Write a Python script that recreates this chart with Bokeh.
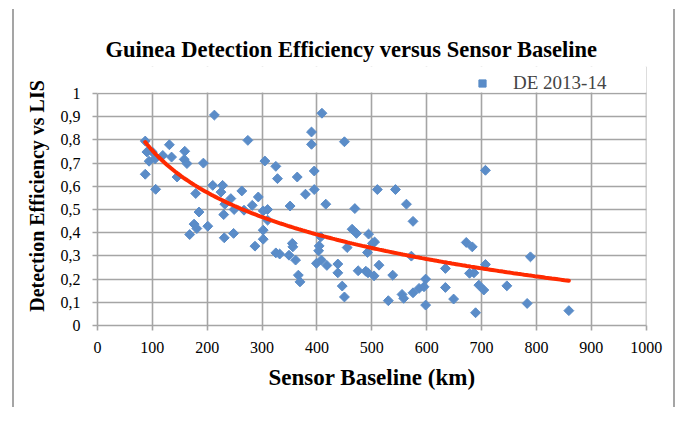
import numpy as np
from bokeh.plotting import figure
from bokeh.layouts import row
from bokeh.models import (Range1d, FixedTicker, CustomJSTickFormatter, Spacer,
                          Legend, LegendItem, BoxAnnotation)
from bokeh.embed import file_html
from bokeh.resources import INLINE

# ---- data ----
baseline_km = [
    87, 90, 100, 94, 105, 87, 106, 119, 131, 135, 145, 159, 158, 163, 193, 213,
    274, 305, 325, 328, 179, 210, 228, 225, 243, 263, 232, 249, 267, 282, 293,
    310, 302, 310, 185, 230, 176, 181, 168, 201, 248, 231, 302, 302, 287, 325,
    409, 390, 390, 450, 395, 364, 395, 379, 351, 416, 510, 543, 563, 469, 575,
    464, 472, 494, 505, 501, 455, 492, 404, 407, 403, 355, 356, 332, 349, 361,
    408, 399, 418, 438, 438, 366, 369, 446, 450, 475, 489, 493, 504, 513, 538,
    530, 555, 558, 575, 586, 595, 598, 598, 572, 634, 634, 649,
    707, 672, 683, 789, 707, 678, 686, 695, 704, 746, 689, 783, 859,
]
detection_eff = [
    0.795, 0.748, 0.748, 0.708, 0.719, 0.652, 0.587, 0.733, 0.779, 0.726, 0.640,
    0.751, 0.716, 0.698, 0.700, 0.907, 0.798, 0.709, 0.686, 0.633, 0.569, 0.604,
    0.604, 0.575, 0.547, 0.580, 0.523, 0.500, 0.497, 0.518, 0.554, 0.500, 0.494,
    0.454, 0.489, 0.478, 0.437, 0.418, 0.392, 0.428, 0.397, 0.378, 0.411, 0.372,
    0.342, 0.313,
    0.915, 0.834, 0.781, 0.792, 0.666, 0.640, 0.586, 0.566, 0.515, 0.523, 0.586,
    0.586, 0.523, 0.504, 0.449, 0.415, 0.397, 0.394, 0.360, 0.354, 0.336, 0.315,
    0.343, 0.382, 0.322, 0.354, 0.339, 0.308, 0.303, 0.282, 0.282, 0.268, 0.259,
    0.265, 0.227, 0.217, 0.188, 0.170, 0.123, 0.236, 0.234, 0.227, 0.214, 0.260,
    0.217, 0.107, 0.134, 0.117, 0.141, 0.160, 0.167, 0.200, 0.088, 0.299, 0.246,
    0.164, 0.114,
    0.669, 0.358, 0.339, 0.296, 0.263, 0.225, 0.227, 0.174, 0.153, 0.171, 0.055,
    0.095, 0.064,
]
x_ticks = [0, 100, 200, 300, 400, 500, 600, 700, 800, 900, 1000]
y_ticks = [0, 0.1, 0.2, 0.3, 0.4, 0.5, 0.6, 0.7, 0.8, 0.9, 1]
title_text = "Guinea Detection Efficiency versus Sensor Baseline"
series_label = "DE 2013-14"
x_label = "Sensor Baseline (km)"
y_label = "Detection Efficiency vs LIS"

# logarithmic trendline fitted to the points (as the spreadsheet does)
bx = np.array(baseline_km, dtype=float)
by = np.array(detection_eff, dtype=float)
slope, intercept = np.polyfit(np.log(bx), by, 1)
trend_x = np.linspace(bx.min(), bx.max(), 200)
trend_y = slope * np.log(trend_x) + intercept

GRID = "#A5A5A5"
FONT = "Liberation Serif"
Y_TOP = 1.1164      # frame reaches above 1 to host the legend row

p = figure(width=659, height=407, output_backend="svg", toolbar_location=None,
           x_range=Range1d(0, 1000.5), y_range=Range1d(0, Y_TOP),
           min_border_left=83, min_border_right=27, min_border_top=66,
           min_border_bottom=82, background_fill_color="white",
           border_fill_color="white", title=title_text)
p.outline_line_color = None

p.title.text_font = FONT
p.title.text_font_size = "22.5px"
p.title.text_font_style = "bold"
p.title.text_color = "black"
p.title.align = "left"
p.title.offset = 8
p.title.standoff = 10

p.xaxis.ticker = FixedTicker(ticks=x_ticks)
p.yaxis.ticker = FixedTicker(ticks=y_ticks)
p.yaxis.bounds = (0, 1)
p.yaxis.formatter = CustomJSTickFormatter(
    code="return (Math.round(tick*10)/10).toString().replace('.', ',');")

for ax in (p.xaxis[0], p.yaxis[0]):
    ax.axis_line_color = GRID
    ax.axis_line_width = 1.6
    ax.major_tick_line_color = GRID
    ax.major_tick_line_width = 1.6
    ax.major_tick_out = 5
    ax.major_tick_in = 0
    ax.minor_tick_line_color = None
    ax.major_label_text_font = FONT
    ax.major_label_text_font_size = "16px"
    ax.major_label_text_color = "black"
    ax.axis_label_text_font = FONT
    ax.axis_label_text_font_style = "bold"
    ax.axis_label_text_color = "black"

p.xaxis.axis_label = x_label
p.xaxis.axis_label_text_font_size = "23px"
p.xaxis.major_label_standoff = 11
p.xaxis.axis_label_standoff = 9
p.yaxis.axis_label = y_label
p.yaxis.axis_label_text_font_size = "20px"
p.yaxis.major_label_standoff = 12
p.yaxis.axis_label_standoff = 10

p.xgrid.grid_line_color = GRID
p.xgrid.grid_line_width = 1.6
p.ygrid.grid_line_color = GRID
p.ygrid.grid_line_width = 1.6

pts = p.scatter(bx, by, marker="square", size=7, angle=np.pi / 4,
                fill_color="#5A8CC8", line_color="#5A8CC8")
p.line(trend_x, trend_y, line_color="#FF2A00", line_width=4, line_cap="round")

# blank strip above the top gridline, where the legend sits
p.add_layout(BoxAnnotation(bottom=1.004, fill_color="white", fill_alpha=1,
                           line_alpha=0))

legend = Legend(items=[LegendItem(label=series_label, renderers=[pts])],
                location=(376, 231), padding=0, margin=0, spacing=0,
                glyph_width=18, glyph_height=18, label_height=18,
                label_standoff=22, label_text_font=FONT,
                label_text_font_size="19px", border_line_alpha=0,
                background_fill_alpha=0)
p.add_layout(legend)

left_rule = Spacer(width=2, height=398, margin=(9, 0, 0, 12),
                   styles={"background-color": GRID})
right_rule = Spacer(width=2, height=398, margin=(9, 0, 0, 0),
                    styles={"background-color": GRID})
layout = row(left_rule, p, right_rule, spacing=0)

open("out.html", "w").write(file_html(layout, INLINE))
